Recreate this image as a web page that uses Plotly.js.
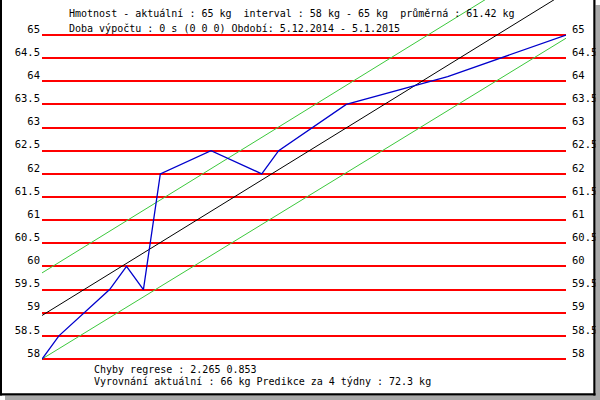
<!DOCTYPE html>
<html>
<head>
<meta charset="utf-8">
<script src="https://cdn.plot.ly/plotly-3.0.1.min.js"></script>
<style>
  html, body { margin: 0; padding: 0; background: #ffffff; }
  #chart { width: 600px; height: 400px; }
</style>
</head>
<body>
<div id="chart"></div>
<script>
// ---- data ----
const days = [0, 1, 4, 5, 6, 7, 10, 13, 14, 18, 24, 31];
const weights = [58, 58.5, 59.5, 60, 59.5, 62, 62.5, 62, 62.5, 63.5, 64.1, 65];

const regDays = [0, 31];
const regLine = [58.94, 65.92];
const upperBand = [59.86, 66.84];
const lowerBand = [58.0, 64.93];

const tickValues = [58, 58.5, 59, 59.5, 60, 60.5, 61, 61.5, 62, 62.5, 63, 63.5, 64, 64.5, 65];
const tickLabels = ["58", "58.5", "59", "59.5", "60", "60.5", "61", "61.5", "62", "62.5", "63", "63.5", "64", "64.5", "65"];

const headerLine1 = "Hmotnost - aktuální : 65 kg  interval : 58 kg - 65 kg  průměrná : 61.42 kg";
const headerLine2 = "Doba výpočtu : 0 s (0 0 0) Období: 5.12.2014 - 5.1.2015";
const footerLine1 = "Chyby regrese : 2.265 0.853";
const footerLine2 = "Vyrovnání aktuální : 66 kg Predikce za 4 týdny : 72.3 kg";

// ---- layout helpers (pixel -> paper) ----
const L = 42, R = 566, T = 0, B = 362;
const W = R - L, H = B - T;
const px = x => (x - L) / W;
const py = y => (B - y) / H;
const pxPerUnit = 46.29;
const yMin = 58 - (B - 359) / pxPerUnit;
const yMax = 65 + (35 - T) / pxPerUnit;

const FONT = "DejaVu Sans Mono, Liberation Mono, monospace";

const traces = [
  { x: regDays, y: upperBand, type: "scatter", mode: "lines",
    line: { color: "#3cc83c", width: 1 }, hoverinfo: "skip" },
  { x: regDays, y: lowerBand, type: "scatter", mode: "lines",
    line: { color: "#3cc83c", width: 1 }, hoverinfo: "skip" },
  { x: regDays, y: regLine, type: "scatter", mode: "lines",
    line: { color: "#000000", width: 1 }, hoverinfo: "skip" },
  { x: days, y: weights, type: "scatter", mode: "lines",
    line: { color: "#0000cc", width: 1.3 }, hoverinfo: "skip" },
  // invisible trace to activate right axis
  { x: [days[0]], y: [weights[0]], yaxis: "y2", type: "scatter", mode: "markers",
    marker: { opacity: 0 }, hoverinfo: "skip" }
];

const yCommon = {
  range: [yMin, yMax],
  tickmode: "array",
  tickvals: tickValues,
  ticktext: tickLabels,
  ticks: "",
  ticklabelshift: -6,
  tickfont: { family: FONT, size: 10.5, color: "#000000" },
  zeroline: false,
  showline: false,
  fixedrange: true
};

const layout = {
  width: 600, height: 400,
  margin: { l: L, r: 600 - R, t: T, b: 400 - B, pad: 0 },
  paper_bgcolor: "#ffffff",
  plot_bgcolor: "#ffffff",
  showlegend: false,
  xaxis: {
    range: [regDays[0], regDays[1]],
    showgrid: false, zeroline: false, showline: false,
    showticklabels: false, ticks: "", fixedrange: true
  },
  yaxis: Object.assign({}, yCommon, {
    side: "left",
    showgrid: true, gridcolor: "#ff0000", gridwidth: 2,
    ticklabelstandoff: 1
  }),
  yaxis2: Object.assign({}, yCommon, {
    side: "right", overlaying: "y", showgrid: false,
    ticklabelstandoff: 5
  }),
  annotations: [
    { text: headerLine1, xref: "paper", yref: "paper", x: px(67), y: py(13.5),
      xanchor: "left", yanchor: "middle", showarrow: false,
      font: { family: FONT, size: 10, color: "#000" } },
    { text: headerLine2, xref: "paper", yref: "paper", x: px(67), y: py(29),
      xanchor: "left", yanchor: "middle", showarrow: false,
      font: { family: FONT, size: 10, color: "#000" } },
    { text: footerLine1, xref: "paper", yref: "paper", x: px(92), y: py(369),
      xanchor: "left", yanchor: "middle", showarrow: false,
      font: { family: FONT, size: 10, color: "#000" } },
    { text: footerLine2, xref: "paper", yref: "paper", x: px(92), y: py(381.5),
      xanchor: "left", yanchor: "middle", showarrow: false,
      font: { family: FONT, size: 10, color: "#000" } }
  ],
  shapes: [
    // shadow
    { type: "rect", xref: "paper", yref: "paper", x0: px(595.5), x1: px(600), y0: py(5), y1: py(400),
      fillcolor: "#a9a9a9", line: { width: 0 }, layer: "above" },
    { type: "rect", xref: "paper", yref: "paper", x0: px(5), x1: px(600), y0: py(395.5), y1: py(400),
      fillcolor: "#a9a9a9", line: { width: 0 }, layer: "above" },
    // black frame
    { type: "rect", xref: "paper", yref: "paper", x0: px(0), x1: px(2), y0: py(0), y1: py(395.5),
      fillcolor: "#000", line: { width: 0 }, layer: "above" },
    { type: "rect", xref: "paper", yref: "paper", x0: px(593.3), x1: px(595.5), y0: py(0), y1: py(395.5),
      fillcolor: "#000", line: { width: 0 }, layer: "above" },
    { type: "rect", xref: "paper", yref: "paper", x0: px(0), x1: px(595.5), y0: py(393.3), y1: py(395.5),
      fillcolor: "#000", line: { width: 0 }, layer: "above" }
  ]
};

Plotly.newPlot("chart", traces, layout, { displayModeBar: false, staticPlot: true });
</script>
</body>
</html>
